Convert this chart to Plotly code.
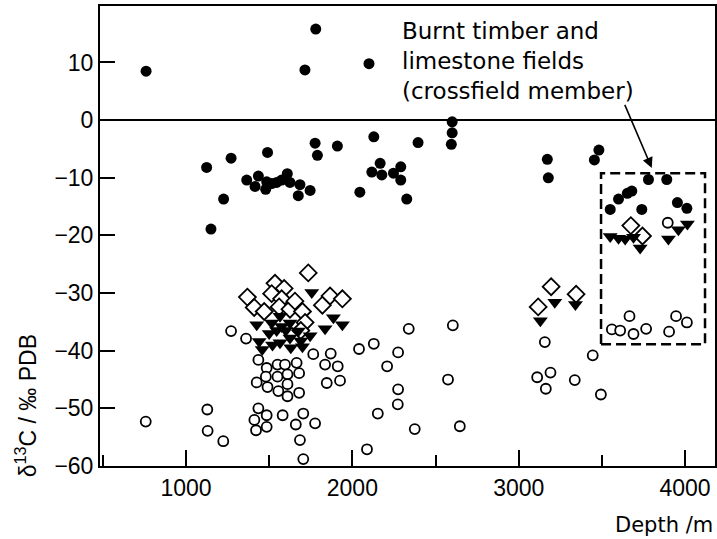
import plotly.graph_objects as go

# ---- data (depth in m, delta13C in permil PDB) ----
filled_circle_depth = [760, 1715, 1780, 2100,
                       1124, 1271, 1150, 1226, 1490, 1776, 1790, 1910,
                       1365, 1415, 1435, 1485, 1479, 1515, 1545, 1575, 1609, 1625, 1685, 1675, 1746,
                       2045, 2129, 2395, 2600, 2600, 2595,
                       2167, 2117, 2177, 2247, 2291, 2291, 2327,
                       3172, 3178, 3455, 3482,
                       3780, 3890, 3550, 3600, 3653, 3680, 3740, 3954, 4011]
filled_circle_d13c = [8.5, 8.7, 15.8, 9.8,
                      -8.2, -6.6, -18.9, -13.7, -5.6, -4.0, -6.1, -4.5,
                      -10.4, -11.5, -9.7, -10.7, -12.0, -11.0, -10.8, -10.4, -9.3, -10.8, -11.2, -13.1, -12.2,
                      -12.5, -2.9, -3.9, -0.3, -2.2, -4.2,
                      -7.5, -9.0, -9.5, -9.2, -8.1, -10.4, -13.7,
                      -6.8, -10.0, -6.9, -5.2,
                      -10.3, -10.3, -15.5, -13.7, -12.7, -12.3, -15.5, -14.3, -15.3]

open_circle_depth = [758, 1128, 1130, 1224, 1271, 1361,
                     1435, 1485, 1550, 1595, 1665,
                     1480, 1550, 1610, 1680,
                     1425, 1490, 1555, 1610, 1680, 1610,
                     1765, 1870, 1836, 1912, 1846, 1926,
                     1435, 1411, 1485, 1485, 1421, 1581, 1705, 1660, 1776, 1685, 1705,
                     2040, 2129, 2339, 2604, 2275, 2209, 2275, 2273, 2575, 2153, 2375, 2646, 2088,
                     3157, 3111, 3191, 3163, 3337, 3445, 3494,
                     3560, 3610, 3666, 3690, 3766, 3904, 3946, 4011, 3896]
open_circle_d13c = [-52.3, -50.2, -53.9, -55.7, -36.6, -37.9,
                    -41.6, -43.0, -42.4, -42.4, -42.1,
                    -44.5, -44.5, -44.1, -43.9,
                    -45.5, -46.3, -47.0, -47.9, -47.3, -45.8,
                    -40.6, -40.5, -42.4, -42.7, -45.6, -45.2,
                    -50.0, -52.0, -51.2, -53.2, -53.8, -51.2, -50.9, -52.8, -52.6, -55.5, -58.8,
                    -39.7, -38.8, -36.2, -35.6, -40.3, -42.7, -46.7, -49.3, -45.0, -50.9, -53.6, -53.1, -57.1,
                    -38.5, -44.6, -43.8, -46.6, -45.1, -40.8, -47.6,
                    -36.3, -36.5, -34.0, -37.1, -36.2, -36.7, -34.0, -35.1, -17.8]

diamond_depth = [1369, 1410, 1470, 1535, 1515, 1590, 1575, 1560, 1625, 1655, 1700, 1716, 1735,
                 1820, 1866, 1940, 1690,
                 3117, 3195, 3345, 3674, 3744]
diamond_d13c = [-30.7, -32.5, -33.2, -28.3, -30.1, -29.2, -31.0, -32.4, -32.8, -31.4, -33.2, -35.1, -26.5,
                -32.1, -30.5, -31.0, -36.5,
                -32.4, -28.9, -30.2, -18.3, -20.1]

triangle_depth = [1756, 1425, 1500, 1515, 1545, 1565, 1575, 1600, 1625, 1440, 1458, 1520, 1565, 1625,
                  1630, 1675, 1690, 1700, 1746, 1836, 1886, 1940,
                  3130, 3217, 3341,
                  3550, 3600, 3640, 3690, 3730, 3900, 3960, 4014]
triangle_d13c = [-29.9, -35.5, -37.0, -35.2, -36.5, -34.0, -35.8, -36.5, -35.2, -38.4, -39.8, -39.0, -38.6, -37.8,
                 -39.5, -36.6, -38.3, -39.3, -37.4, -36.2, -34.3, -35.5,
                 -34.8, -31.6, -32.0,
                 -20.2, -20.5, -20.6, -20.3, -22.2, -20.6, -19.0, -18.0]

box_depth = [3495, 4120]
box_d13c = [-38.9, -9.2]

x_ticks = [1000, 2000, 3000, 4000]
y_ticks = [10, 0, -10, -20, -30, -40, -50, -60]

FONT = "Liberation Sans, Arial, sans-serif"
WIDE = "DejaVu Sans, sans-serif"

fig = go.Figure()
fig.add_trace(go.Scatter(x=diamond_depth, y=diamond_d13c, mode="markers",
                         marker=dict(symbol="diamond", size=13, color="white",
                                     line=dict(color="black", width=1.8))))
fig.add_trace(go.Scatter(x=open_circle_depth, y=open_circle_d13c, mode="markers",
                         marker=dict(symbol="circle", size=10, color="white",
                                     line=dict(color="black", width=1.8))))
fig.add_trace(go.Scatter(x=filled_circle_depth, y=filled_circle_d13c, mode="markers",
                         marker=dict(symbol="circle", size=11, color="black",
                                     line=dict(color="black", width=0))))
fig.add_trace(go.Scatter(x=triangle_depth, y=triangle_d13c, mode="markers",
                         marker=dict(symbol="triangle-down", size=13, color="black",
                                     line=dict(color="black", width=0))))

fig.add_shape(type="rect", xref="x", yref="y",
              x0=box_depth[0], x1=box_depth[1], y0=box_d13c[0], y1=box_d13c[1],
              line=dict(color="black", width=2.5, dash="10px,5px"))

fig.add_annotation(xref="paper", yref="paper", x=0.488, y=(466 - 61) / 460,
                   text="Burnt timber and<br>limestone fields<br>(crossfield member)",
                   showarrow=False, xanchor="left", yanchor="middle", align="left",
                   font=dict(family=WIDE, size=23, color="black"))

fig.add_annotation(x=3800, y=-8.3, xref="x", yref="y", ax=3634, ay=2.9, axref="x", ayref="y",
                   text="", showarrow=True, arrowhead=2, arrowsize=1.3, arrowwidth=1.6,
                   arrowcolor="black")

fig.add_annotation(xref="paper", yref="paper", x=-0.12, y=(466 - 406) / 460,
                   text="δ<sup>13</sup>C / ‰ PDB", textangle=-90, showarrow=False,
                   xanchor="center", yanchor="middle",
                   font=dict(family=FONT, size=23, color="black"))
fig.add_annotation(xref="paper", yref="paper", x=1.0, y=-(525 - 466) / 460,
                   text="Depth /m", showarrow=False, xanchor="right", yanchor="middle",
                   font=dict(family=WIDE, size=21, color="black"))

fig.update_layout(
    width=717, height=539,
    margin=dict(l=100, r=2, t=6, b=73),
    paper_bgcolor="white", plot_bgcolor="white",
    showlegend=False,
    font=dict(family=FONT, size=23, color="black"),
    xaxis=dict(range=[483, 4180], tickvals=x_ticks, ticks="inside", ticklen=16,
               tickwidth=1.5, tickcolor="black", showgrid=False, zeroline=False,
               showline=True, linecolor="black", linewidth=2, mirror=True,
               ticklabelstandoff=0, tickfont=dict(family=FONT, size=23),
               minor=dict(dtick=500, tick0=0, ticks="inside", ticklen=11, tickwidth=1.5,
                          tickcolor="black", showgrid=False),
               automargin=False),
    yaxis=dict(range=[-60, 19.8], tickvals=y_ticks, ticks="inside", ticklen=15,
               tickwidth=1.5, tickcolor="black", showgrid=False,
               zeroline=True, zerolinecolor="black", zerolinewidth=1.5,
               showline=True, linecolor="black", linewidth=2, mirror=True,
               ticklabelstandoff=0, tickfont=dict(family=FONT, size=23),
               automargin=False),
)

fig.write_html("out.html")
